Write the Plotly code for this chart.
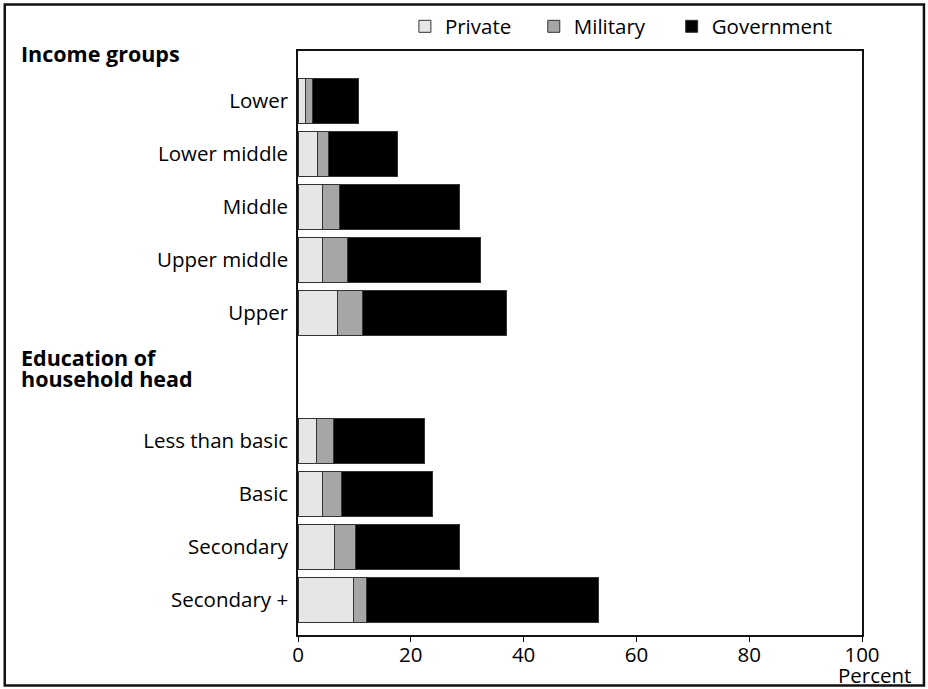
import plotly.graph_objects as go

categories = ["Lower", "Lower middle", "Middle", "Upper middle", "Upper",
              "Less than basic", "Basic", "Secondary", "Secondary +"]
private = [1.4, 3.5, 4.4, 4.4, 7.0, 3.2, 4.4, 6.4, 9.8]
military = [1.1, 1.9, 3.0, 4.4, 4.4, 3.1, 3.3, 3.8, 2.4]
government = [8.3, 12.2, 21.3, 23.6, 25.6, 16.1, 16.2, 18.5, 41.0]
x_ticks = [0, 20, 40, 60, 80, 100]

# layout: two groups of rows, separated by a heading gap
group_sizes = [5, 4]
gap = 1.4
y_pos = []
start = 0.0
for n in group_sizes:
    y_pos += [start + i for i in range(n)]
    start += n + gap

FONT = "Open Sans, Liberation Sans, sans-serif"
FS = 20.5

# pixel helpers for layout placement (plot area: x 298..862.5, y 51..635)
def px(x):
    return (x - 298) / 564.5

def py(y):
    return (635 - y) / 584

fig = go.Figure()
series = [("Private", private, "#e6e6e6", "legend", 405),
          ("Military", military, "#a6a6a6", "legend2", 534),
          ("Government", government, "#000000", "legend3", 672)]
legends = {}
for name, vals, col, lg, lx in series:
    fig.add_trace(go.Bar(
        y=y_pos, x=vals, name=name, orientation="h", legend=lg,
        marker=dict(color=col, line=dict(color="#333333", width=1)),
    ))
    legends[lg] = dict(orientation="h", x=px(lx), xanchor="left", y=py(26.5), yanchor="middle",
                       font=dict(size=FS), bgcolor="rgba(0,0,0,0)")

fig.update_layout(
    barmode="stack", bargap=0.15,
    width=928, height=689,
    margin=dict(l=298, r=65.5, t=51, b=54, autoexpand=False),
    paper_bgcolor="white", plot_bgcolor="white",
    font=dict(family=FONT, size=FS, color="#000000"),
    showlegend=True,
    xaxis=dict(range=[0, 100], tickvals=x_ticks, ticks="outside", ticklen=5,
               tickcolor="#000", showgrid=False, zeroline=False,
               showline=True, linecolor="#111", linewidth=1.5, mirror=True,
               ticklabelstandoff=-4, tickfont=dict(size=FS)),
    yaxis=dict(range=[y_pos[-1] + 0.66, -0.94], tickvals=y_pos, ticktext=categories,
               ticks="", showgrid=False, zeroline=False,
               showline=True, linecolor="#111", linewidth=1.5, mirror=True,
               ticklabelstandoff=4, tickfont=dict(size=FS)),
    **legends,
)

BIG = '<span style="font-size:21.5px"><b>{}</b></span>'
fig.add_annotation(text=BIG.format("Income groups"), xref="paper", yref="paper",
                   x=px(19), xanchor="left", y=py(54), yanchor="middle",
                   showarrow=False, font=dict(size=21.5, family=FONT))
fig.add_annotation(text=BIG.format("Education of") + "<br>" + BIG.format("household head"),
                   xref="paper", yref="paper",
                   x=px(19), xanchor="left", y=py(368), yanchor="middle", align="left",
                   showarrow=False, font=dict(size=16.2, family=FONT))
fig.add_annotation(text="Percent", xref="paper", yref="paper",
                   x=px(914), xanchor="right", y=py(675), yanchor="middle",
                   showarrow=False, font=dict(size=FS, family=FONT))

fig.add_shape(type="rect", xref="paper", yref="paper",
              x0=px(4.5), x1=px(924.5), y0=py(685.5), y1=py(4.5),
              line=dict(color="#111", width=2.5), fillcolor="rgba(0,0,0,0)", layer="below")

fig.write_html("out.html", config={"displayModeBar": False},
               post_script="document.body.style.margin='0';document.body.style.overflow='hidden';")
